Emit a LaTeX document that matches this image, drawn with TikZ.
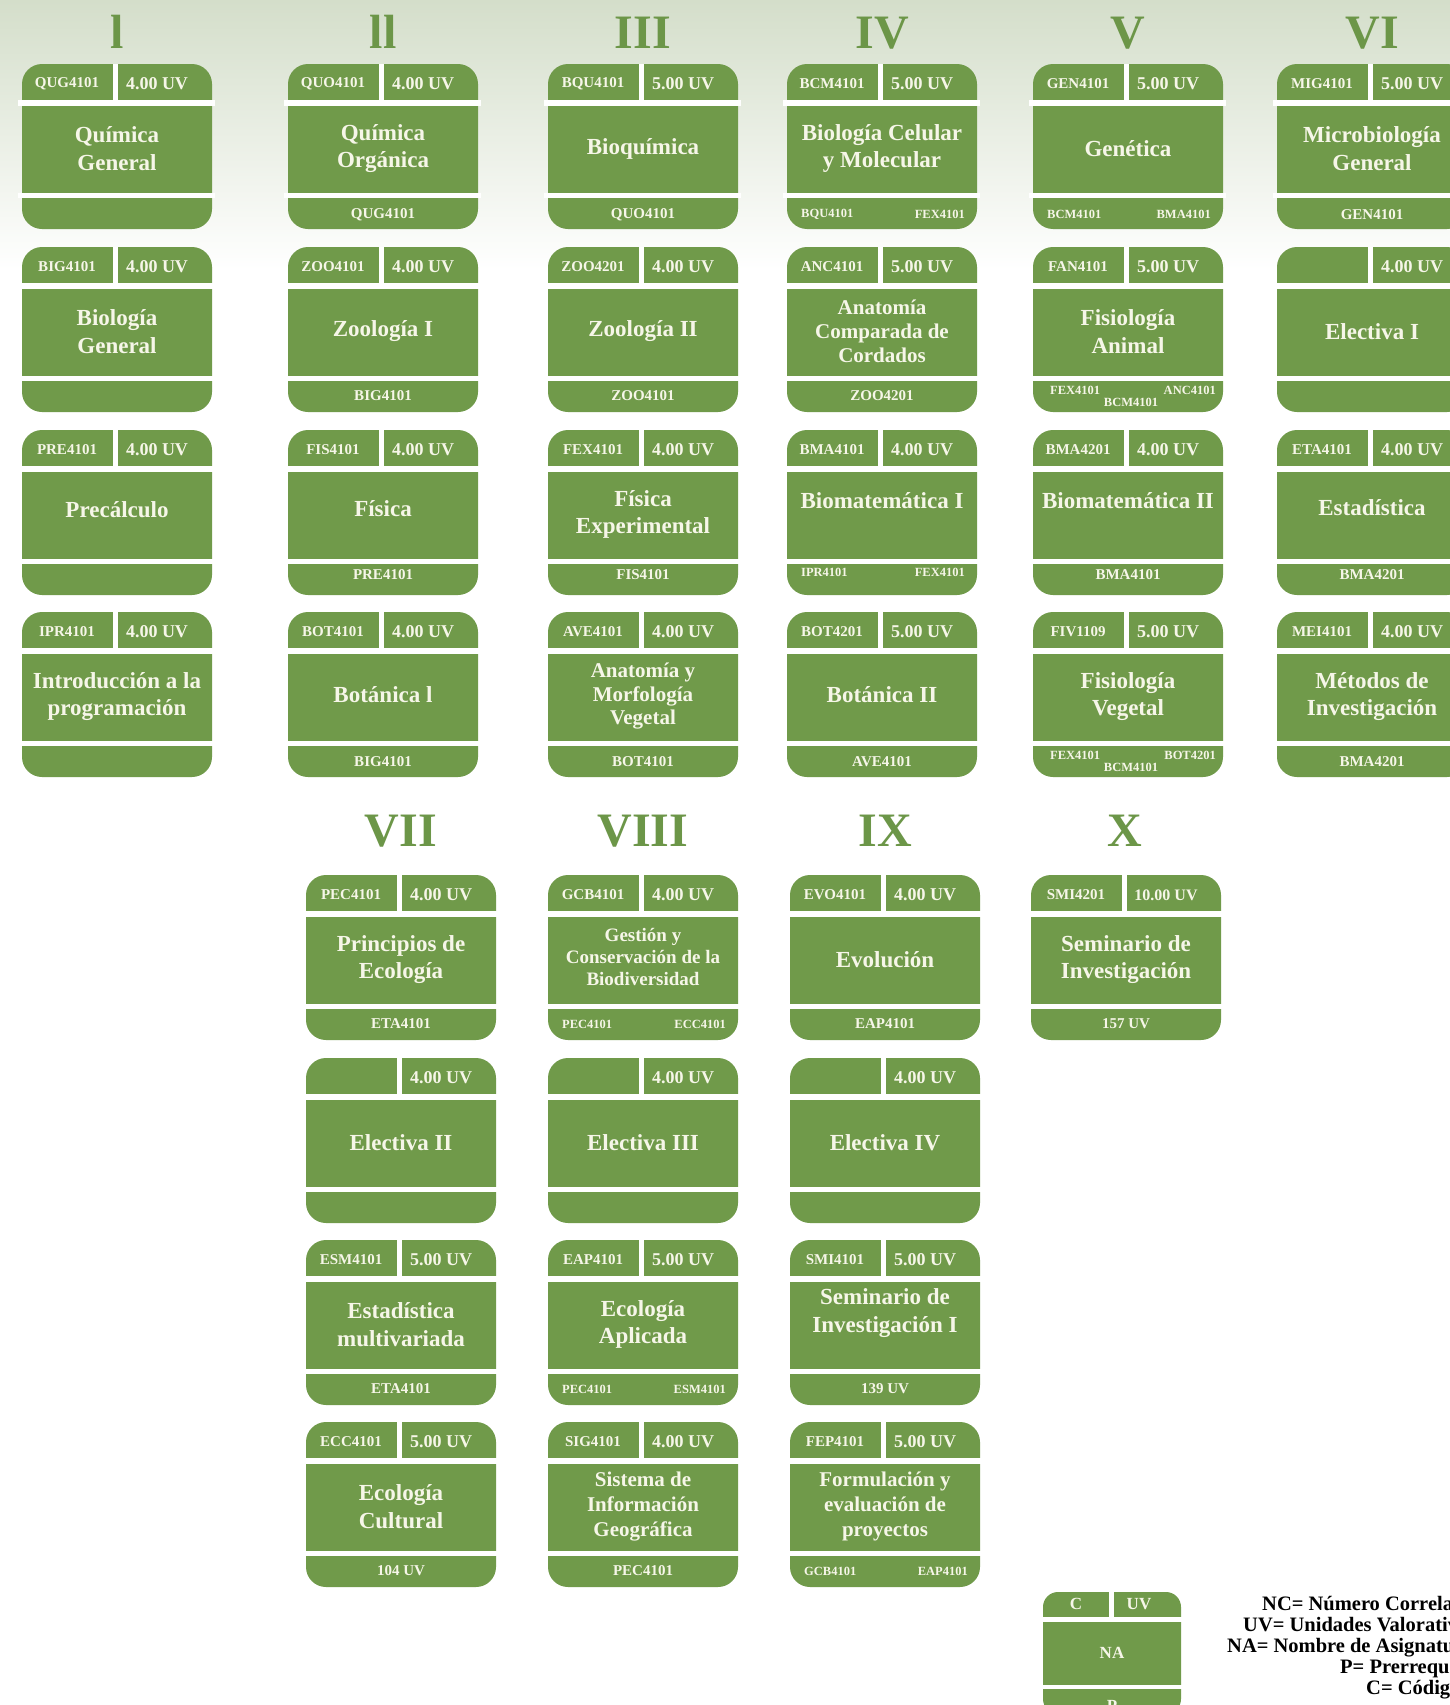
\documentclass[tikz,border=0pt]{standalone}
\usepackage{fontspec}
\setmainfont{Liberation Serif}
\definecolor{cardgreen}{RGB}{112,154,74}
\definecolor{hdrgreen}{RGB}{108,150,72}
\definecolor{txtcream}{RGB}{246,246,232}
\definecolor{bgtop}{RGB}{212,222,202}
\tikzset{
  codetxt/.style={text=txtcream, inner sep=0pt, font=\fontsize{15}{18}\selectfont\bfseries},
  uvtxt/.style={text=txtcream, inner sep=0pt, font=\fontsize{18}{20}\selectfont\bfseries},
  nametxt/.style={text=txtcream, inner sep=0pt, align=center, font=\fontsize{23}{27.5}\selectfont\bfseries},
  pretxt/.style={text=txtcream, inner sep=0pt, font=\fontsize{15}{18}\selectfont\bfseries},
  presm/.style={text=txtcream, inner sep=0pt, font=\fontsize{12.5}{14}\selectfont\bfseries},
  header/.style={text=hdrgreen, inner sep=0pt, anchor=base, font=\fontsize{48}{50}\selectfont\bfseries},
  legtxt/.style={text=black, inner sep=0pt, anchor=base west, font=\fontsize{20.5}{22}\selectfont\bfseries},
  legcard/.style={text=txtcream, inner sep=0pt, font=\fontsize{17}{20}\selectfont\bfseries}
}
% #1 name options, #2 id, #3 x, #4 y, #5 code, #6 uv, #7 name, #8 extra
\newcommand{\course}[8][]{%
  \begin{scope}[shift={(#3,#4)}]
    \fill[cardgreen, rounded corners=20pt] (0,0) rectangle (190,165);
    \fill[white] (-4,36) rectangle (193,42);
    \fill[white] (-4,129) rectangle (193,134);
    \fill[white] (91,0) rectangle (96,36);
    \if\relax\detokenize{#5}\relax\else\node[codetxt] (#2-c) at (45,20) {#5};\fi
    \node[uvtxt] (#2-u) at (135,20) {#6};
    \node[nametxt,#1] (#2-n) at (95,84.5) {#7};
    #8
  \end{scope}}
\newcommand{\pone}[3][149]{\node[pretxt] (#2-p) at (95,#1) {#3};}
\newcommand{\ptwo}[4][149]{\node[presm,anchor=west] (#2-pa) at (14,#1) {#3};\node[presm,anchor=east] (#2-pb) at (178,#1) {#4};}
\newcommand{\pthree}[4]{\node[presm,anchor=west] (#1-pa) at (17,143) {#2};\node[presm] (#1-pb) at (98,155) {#3};\node[presm,anchor=east] (#1-pc) at (183,143) {#4};}
\begin{document}
\begin{tikzpicture}[x=1pt,y=-1pt]
\useasboundingbox (0,0) rectangle (1450,1705);
\clip (0,0) rectangle (1450,1705);
\fill[white] (0,0) rectangle (1450,1705);
\shade[top color=bgtop, bottom color=white] (0,0) rectangle (1450,270);

% headers
\node[header] (h1) at (117,48) {l};
\node[header] (h2) at (383,48) {ll};
\node[header] (h3) at (643,48) {III};
\node[header] (h4) at (882,48) {IV};
\node[header] (h5) at (1128,48) {V};
\node[header] (h6) at (1372,48) {VI};
\node[header] (h7) at (401,846) {VII};
\node[header] (h8) at (643,846) {VIII};
\node[header] (h9) at (885,846) {IX};
\node[header] (h10) at (1125,846) {X};

% column I
\course{qug}{22}{64}{QUG4101}{4.00 UV}{Química\\General}{}
\course{big}{22}{247}{BIG4101}{4.00 UV}{Biología\\General}{}
\course[yshift=4.5pt]{pre}{22}{430}{PRE4101}{4.00 UV}{Precálculo}{}
\course{ipr}{22}{612}{IPR4101}{4.00 UV}{Introducción a la\\programación}{}
% column II
\course{quo}{288}{64}{QUO4101}{4.00 UV}{Química\\Orgánica}{\pone[151]{quo}{QUG4101}}
\course{zoo1}{288}{247}{ZOO4101}{4.00 UV}{Zoología I}{\pone{zoo1}{BIG4101}}
\course[yshift=5.5pt]{fis}{288}{430}{FIS4101}{4.00 UV}{Física}{\pone[145]{fis}{PRE4101}}
\course[yshift=2pt]{bot1}{288}{612}{BOT4101}{4.00 UV}{Botánica l}{\pone[150]{bot1}{BIG4101}}
% column III
\course{bqu}{548}{64}{BQU4101}{5.00 UV}{Bioquímica}{\pone[151]{bqu}{QUO4101}}
\course{zoo2}{548}{247}{ZOO4201}{4.00 UV}{Zoología II}{\pone{zoo2}{ZOO4101}}
\course{fex}{548}{430}{FEX4101}{4.00 UV}{Física\\Experimental}{\pone[145]{fex}{FIS4101}}
\course[font=\fontsize{21}{23.5}\selectfont\bfseries]{ave}{548}{612}{AVE4101}{4.00 UV}{Anatomía y\\Morfología\\Vegetal}{\pone[150]{ave}{BOT4101}}
% column IV
\course{bcm}{787}{64}{BCM4101}{5.00 UV}{Biología Celular\\y Molecular}{\ptwo[150]{bcm}{BQU4101}{FEX4101}}
\course[font=\fontsize{21}{24}\selectfont\bfseries]{anc}{787}{247}{ANC4101}{5.00 UV}{Anatomía\\Comparada de\\Cordados}{\pone{anc}{ZOO4201}}
\course[yshift=13.5pt]{bma1}{787}{430}{BMA4101}{4.00 UV}{Biomatemática I}{\ptwo[142]{bma1}{IPR4101}{FEX4101}}
\course[yshift=2pt]{bot2}{787}{612}{BOT4201}{5.00 UV}{Botánica II}{\pone[150]{bot2}{AVE4101}}
% column V
\course{gen}{1033}{64}{GEN4101}{5.00 UV}{Genética}{\ptwo[150]{gen}{BCM4101}{BMA4101}}
\course{fan}{1033}{247}{FAN4101}{5.00 UV}{Fisiología\\Animal}{\pthree{fan}{FEX4101}{BCM4101}{ANC4101}}
\course[yshift=13.5pt]{bma2}{1033}{430}{BMA4201}{4.00 UV}{Biomatemática II}{\pone[145]{bma2}{BMA4101}}
\course{fiv}{1033}{612}{FIV1109}{5.00 UV}{Fisiología\\Vegetal}{\pthree{fiv}{FEX4101}{BCM4101}{BOT4201}}
% column VI
\course{mig}{1277}{64}{MIG4101}{5.00 UV}{Microbiología\\General}{\pone[151]{mig}{GEN4101}}
\course{el1}{1277}{247}{}{4.00 UV}{Electiva I}{}
\course[yshift=6.5pt]{eta}{1277}{430}{ETA4101}{4.00 UV}{Estadística}{\pone[145]{eta}{BMA4201}}
\course{mei}{1277}{612}{MEI4101}{4.00 UV}{Métodos de\\Investigación}{\pone[150]{mei}{BMA4201}}
% column VII
\course{pec}{306}{875}{PEC4101}{4.00 UV}{Principios de\\Ecología}{\pone{pec}{ETA4101}}
\course{el2}{306}{1058}{}{4.00 UV}{Electiva II}{}
\course{esm}{306}{1240}{ESM4101}{5.00 UV}{Estadística\\multivariada}{\pone{esm}{ETA4101}}
\course{ecc}{306}{1422}{ECC4101}{5.00 UV}{Ecología\\Cultural}{\pone{ecc}{104 UV}}
% column VIII
\course[yshift=2.5pt,font=\fontsize{19}{22}\selectfont\bfseries]{gcb}{548}{875}{GCB4101}{4.00 UV}{Gestión y\\Conservación de la\\Biodiversidad}{\ptwo{gcb}{PEC4101}{ECC4101}}
\course{el3}{548}{1058}{}{4.00 UV}{Electiva III}{}
\course{eap}{548}{1240}{EAP4101}{5.00 UV}{Ecología\\Aplicada}{\ptwo{eap}{PEC4101}{ESM4101}}
\course[font=\fontsize{21}{25}\selectfont\bfseries]{sig}{548}{1422}{SIG4101}{4.00 UV}{Sistema de\\Información\\Geográfica}{\pone{sig}{PEC4101}}
% column IX
\course{evo}{790}{875}{EVO4101}{4.00 UV}{Evolución}{\pone{evo}{EAP4101}}
\course{el4}{790}{1058}{}{4.00 UV}{Electiva IV}{}
\course[yshift=11.5pt]{smi1}{790}{1240}{SMI4101}{5.00 UV}{Seminario de\\Investigación I}{\pone{smi1}{139 UV}}
\course[font=\fontsize{21}{25}\selectfont\bfseries]{fep}{790}{1422}{FEP4101}{5.00 UV}{Formulación y\\evaluación de\\proyectos}{\ptwo{fep}{GCB4101}{EAP4101}}
% column X
\course{smi2}{1031}{875}{SMI4201}{\fontsize{16}{18}\selectfont 10.00 UV}{Seminario de\\Investigación}{\pone{smi2}{157 UV}}

% legend card
\begin{scope}[shift={(1043,1592)}]
  \fill[cardgreen, rounded corners=15pt] (0,0) rectangle (138,122);
  \fill[white] (-3,25) rectangle (141,30);
  \fill[white] (-3,93) rectangle (141,97);
  \fill[white] (66,0) rectangle (71,25);
  \node[legcard] (lc) at (33,12) {C};
  \node[legcard] (luv) at (96,12) {UV};
  \node[legcard] (lna) at (69,61) {NA};
  \node[legcard, anchor=base] (lp) at (69,119) {P};
\end{scope}
\node[legtxt] (leg1) at (1262,1610) {NC= Número Correlativo};
\node[legtxt] (leg2) at (1243,1631) {UV= Unidades Valorativas};
\node[legtxt] (leg3) at (1227,1652) {NA= Nombre de Asignatura};
\node[legtxt] (leg4) at (1340,1673) {P= Prerrequisito};
\node[legtxt] (leg5) at (1366,1694) {C= Código};
\end{tikzpicture}
\end{document}
